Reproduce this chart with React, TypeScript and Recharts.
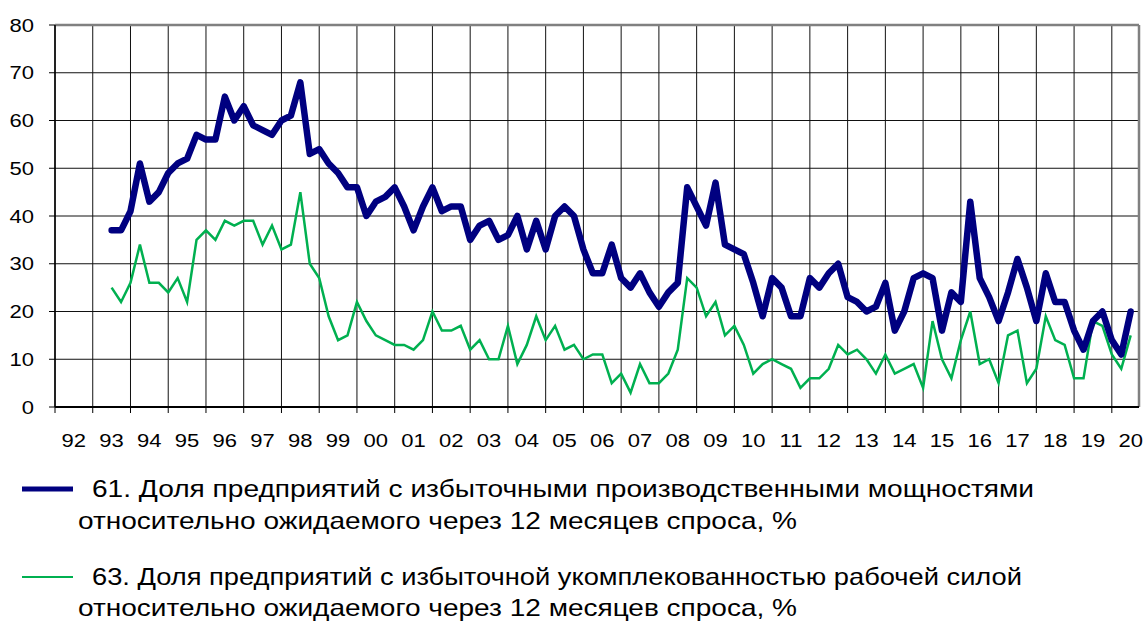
import React from "react";
import { LineChart, Line, XAxis, YAxis, CartesianGrid, ReferenceLine } from "recharts";

// Quarterly observations starting in the middle of 1993
const START_YEAR = 1993;
const START_QUARTER = 3;

// 61. Share of firms with excess production capacity, %
const capacity = [
  37, 37, 41, 51, 43, 45, 49, 51, 52, 57,
  56, 56, 65, 60, 63, 59, 58, 57, 60, 61,
  68, 53, 54, 51, 49, 46, 46, 40, 43, 44,
  46, 42, 37, 42, 46, 41, 42, 42, 35, 38,
  39, 35, 36, 40, 33, 39, 33, 40, 42, 40,
  33, 28, 28, 34, 27, 25, 28, 24, 21, 24,
  26, 46, 42, 38, 47, 34, 33, 32, 26, 19,
  27, 25, 19, 19, 27, 25, 28, 30, 23, 22,
  20, 21, 26, 16, 20, 27, 28, 27, 16, 24,
  22, 43, 27, 23, 18, 24, 31, 25, 18, 28,
  22, 22, 16, 12, 18, 20, 14, 11, 20,
];

// 63. Share of firms with excess labour, %
const labour = [
  25, 22, 26, 34, 26, 26, 24, 27, 22, 35,
  37, 35, 39, 38, 39, 39, 34, 38, 33, 34,
  45, 30, 27, 19, 14, 15, 22, 18, 15, 14,
  13, 13, 12, 14, 20, 16, 16, 17, 12, 14,
  10, 10, 17, 9, 13, 19, 14, 17, 12, 13,
  10, 11, 11, 5, 7, 3, 9, 5, 5, 7,
  12, 27, 25, 19, 22, 15, 17, 13, 7, 9,
  10, 9, 8, 4, 6, 6, 8, 13, 11, 12,
  10, 7, 11, 7, 8, 9, 4, 18, 10, 6,
  14, 20, 9, 10, 5, 15, 16, 5, 8, 19,
  14, 13, 6, 6, 18, 17, 11, 8, 15,
];

const yearTicks = [
  1992, 1993, 1994, 1995, 1996, 1997, 1998, 1999, 2000, 2001,
  2002, 2003, 2004, 2005, 2006, 2007, 2008, 2009, 2010, 2011,
  2012, 2013, 2014, 2015, 2016, 2017, 2018, 2019, 2020,
];
const yTicks = [0, 10, 20, 30, 40, 50, 60, 70, 80];

const legendCapacity = "61. Доля предприятий с избыточными производственными мощностями";
const legendLabour = "63. Доля предприятий с избыточной укомплекованностью рабочей силой";
const legendTail = "относительно ожидаемого через 12 месяцев спроса, %";

const X_MIN = 1992;
const X_MAX = 2020.72;

const data = capacity.map((v, i) => {
  const q = START_QUARTER - 1 + i;
  const year = START_YEAR + Math.floor(q / 4);
  const quarter = (q % 4) + 1;
  return {
    period: `${year} Q${quarter}`,
    t: year + (quarter - 1) / 4,
    capacity: v,
    labour: labour[i],
  };
});

const W = 1146;
const CH = 470;
const MARGIN = { top: 25, right: 7, left: 0, bottom: 0 };
const Y_W = 55;
const PLOT_W = W - MARGIN.left - MARGIN.right - Y_W;
const HALF_YEAR = (PLOT_W / (X_MAX - X_MIN)) / 2;
const SX = 1.19;
const FONT = "'Liberation Sans', Arial, sans-serif";

const XTick = (props: any) => {
  const { x, y, payload } = props;
  const label = String(payload.value % 100).padStart(2, "0");
  return (
    <g transform={`translate(${x + HALF_YEAR},${y + 32}) scale(${SX},1)`}>
      <text x={0} y={0} textAnchor="middle" fontSize={18.5} fill="#000" fontFamily={FONT}>
        {label}
      </text>
    </g>
  );
};

const YTick = (props: any) => {
  const { x, y, payload } = props;
  return (
    <g transform={`translate(${x - 13},${y}) scale(${SX},1)`}>
      <text x={0} y={0} dy="0.36em" textAnchor="end" fontSize={18.5} fill="#000" fontFamily={FONT}>
        {payload.value}
      </text>
    </g>
  );
};

const LegendText = ({ x, y, width, children }: any) => (
  <g transform={`translate(${x},${y}) scale(${SX},1)`}>
    <text x={0} y={0} fontSize={24} fill="#000" textLength={width / SX} lengthAdjust="spacingAndGlyphs">
      {children}
    </text>
  </g>
);

export default function App() {
  return (
    <div style={{ position: "absolute", left: 0, top: 0, width: W, height: 621, background: "#fff" }}>
      <LineChart width={W} height={CH} data={data} margin={MARGIN}>
        <CartesianGrid stroke="#111" strokeWidth={1} vertical horizontal />
        <XAxis
          dataKey="t"
          type="number"
          domain={[X_MIN, X_MAX]}
          ticks={yearTicks}
          allowDataOverflow
          interval={0}
          height={CH - 407}
          tickSize={6}
          tick={<XTick />}
          axisLine={{ stroke: "#000", strokeWidth: 2 }}
          tickLine={{ stroke: "#000", strokeWidth: 1 }}
        />
        <YAxis
          type="number"
          domain={[0, 80]}
          ticks={yTicks}
          interval={0}
          width={Y_W}
          tickSize={6}
          tick={<YTick />}
          axisLine={{ stroke: "#000", strokeWidth: 1.5 }}
          tickLine={{ stroke: "#000", strokeWidth: 1 }}
        />
        <ReferenceLine y={80} stroke="#808080" strokeWidth={2.5} />
        <ReferenceLine x={X_MAX} stroke="#808080" strokeWidth={2.5} />
        <Line
          type="linear"
          dataKey="labour"
          stroke="#00B050"
          strokeWidth={2.5}
          dot={false}
          isAnimationActive={false}
          strokeLinejoin="miter"
        />
        <Line
          type="linear"
          dataKey="capacity"
          stroke="#000080"
          strokeWidth={6.5}
          dot={false}
          isAnimationActive={false}
          strokeLinejoin="round"
          strokeLinecap="round"
        />
      </LineChart>
      <svg
        width={W}
        height={621 - CH}
        style={{ position: "absolute", left: 0, top: CH }}
        fontFamily={FONT}
      >
        <g transform={`translate(0,${-CH})`}>
          <line x1={22} x2={73} y1={489} y2={489} stroke="#000080" strokeWidth={5} />
          <LegendText x={92} y={497} width={942}>{legendCapacity}</LegendText>
          <LegendText x={78} y={529} width={719}>{legendTail}</LegendText>
          <line x1={22} x2={73} y1={577} y2={577} stroke="#00B050" strokeWidth={2} />
          <LegendText x={92} y={585} width={930}>{legendLabour}</LegendText>
          <LegendText x={78} y={616} width={719}>{legendTail}</LegendText>
        </g>
      </svg>
    </div>
  );
}
